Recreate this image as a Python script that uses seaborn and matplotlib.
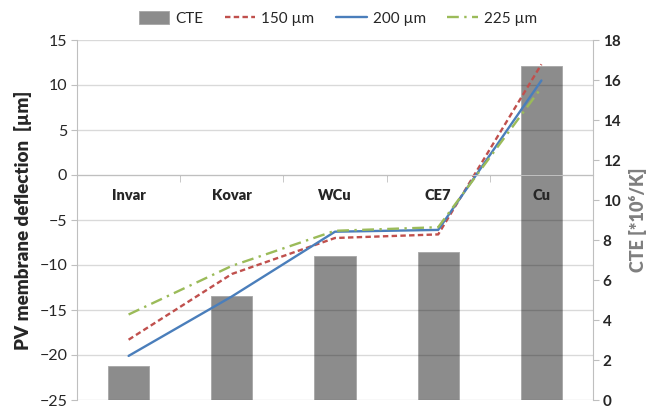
import matplotlib
matplotlib.use("Agg")
import matplotlib.pyplot as plt
from matplotlib.patches import Patch
from matplotlib.lines import Line2D
from matplotlib.ticker import FixedLocator, MultipleLocator
import numpy as np
import pandas as pd
import seaborn as sns

# Materials and their coefficient of thermal expansion
materials = ["Invar", "Kovar", "WCu", "CE7", "Cu"]
cte = [1.7, 5.2, 7.2, 7.4, 16.7]

# PV membrane deflection for three membrane thicknesses
defl_150 = [-18.3, -11.0, -7.0, -6.6, 12.3]
defl_200 = [-20.1, -13.5, -6.3, -6.1, 10.5]
defl_225 = [-15.5, -10.1, -6.2, -5.8, 9.7]
thickness_labels = ["150 µm", "200 µm", "225 µm"]

sns.set_style("white")
plt.rcParams["font.family"] = ["Lato", "DejaVu Sans"]

colors = {"150 µm": "#C0504D", "200 µm": "#4A7EBB", "225 µm": "#9BBB59"}
dashes = {"150 µm": (2.3, 1.4), "200 µm": "", "225 µm": (5.0, 2.3, 1, 2.3)}
bar_color = "#8C8C8C"
axis_grey = "#BFBFBF"

df_lines = pd.DataFrame({
    "material": materials * 3,
    "deflection": defl_150 + defl_200 + defl_225,
    "thickness": np.repeat(thickness_labels, len(materials)),
})
df_cte = pd.DataFrame({"material": materials, "cte": cte})

fig = plt.figure(figsize=(6.56, 4.07), dpi=100)
ax = fig.add_axes([77 / 656, 1 - 400 / 407, (593 - 77) / 656, 360 / 407])
ax_b = ax.twinx()

# Deflection curves on the left axis
sns.lineplot(data=df_lines, x="material", y="deflection", hue="thickness",
             style="thickness", hue_order=thickness_labels,
             style_order=thickness_labels, palette=colors, dashes=dashes,
             linewidth=1.7, legend=False, sort=False, ax=ax)

# CTE bars on the right axis
sns.barplot(data=df_cte, x="material", y="cte", order=materials,
            color=bar_color, width=0.4, saturation=1, edgecolor="#A6A6A6",
            linewidth=0.6, ax=ax_b)

# Keep lines and grid above the bars
ax.set_zorder(ax_b.get_zorder() + 1)
ax.patch.set_visible(False)

ax.set_ylim(-25, 15)
ax.yaxis.set_major_locator(MultipleLocator(5))
ax_b.set_ylim(0, 18)
ax_b.yaxis.set_major_locator(MultipleLocator(2))
ax.set_xlim(-0.5, len(materials) - 0.5)

ax.grid(axis="y", color="black", alpha=0.15, linewidth=1.0)
ax.grid(axis="x", visible=False)
ax_b.grid(False)

# Category axis along zero deflection
ax.spines["bottom"].set_position(("data", 0))
ax.spines["bottom"].set_color(axis_grey)
ax.spines["top"].set_visible(False)
ax.spines["right"].set_visible(False)
ax.spines["left"].set_color(axis_grey)
ax_b.spines["top"].set_visible(False)
ax_b.spines["bottom"].set_visible(False)
ax_b.spines["left"].set_visible(False)
ax_b.spines["right"].set_color(axis_grey)

ax.xaxis.set_major_locator(FixedLocator(range(len(materials))))
ax.set_xticklabels(materials, fontsize=10.5, fontweight="heavy")
ax.xaxis.set_minor_locator(FixedLocator(np.arange(0.5, len(materials) - 1, 1.0)))
ax.tick_params(axis="x", which="major", length=0, pad=10)
ax.tick_params(axis="x", which="minor", length=5, direction="out",
               color=axis_grey, bottom=True)
ax.set_xlabel("")
ax_b.set_xlabel("")

ax.tick_params(axis="y", length=4, direction="out", color=axis_grey,
               labelsize=11.5, pad=3, left=True)
ax_b.tick_params(axis="y", length=4, direction="out", color=axis_grey,
                 labelsize=11, pad=3, right=True)
for lbl in ax_b.get_yticklabels():
    lbl.set_fontweight("bold")
    lbl.set_color("#262626")

ax.set_ylabel("PV membrane deflection  [µm]", fontsize=13.5,
              fontweight="heavy", labelpad=5)
ax_b.set_ylabel("CTE [*10⁶/K]", fontsize=13, fontweight="heavy",
                color="#7F7F7F", labelpad=6)

handles = [Patch(facecolor=bar_color, edgecolor="#A6A6A6", linewidth=0.6)]
handles += [Line2D([], [], color=colors[t], linewidth=1.7,
                   linestyle=(0, dashes[t]) if dashes[t] else "-")
            for t in thickness_labels]
fig.legend(handles, ["CTE"] + thickness_labels, loc="center",
           bbox_to_anchor=(0.515, 0.955), ncol=4, frameon=False,
           fontsize=11, handlelength=2.0, handleheight=0.9,
           handletextpad=0.4, columnspacing=1.4)

fig.savefig("out.png", dpi=100, facecolor="white")
